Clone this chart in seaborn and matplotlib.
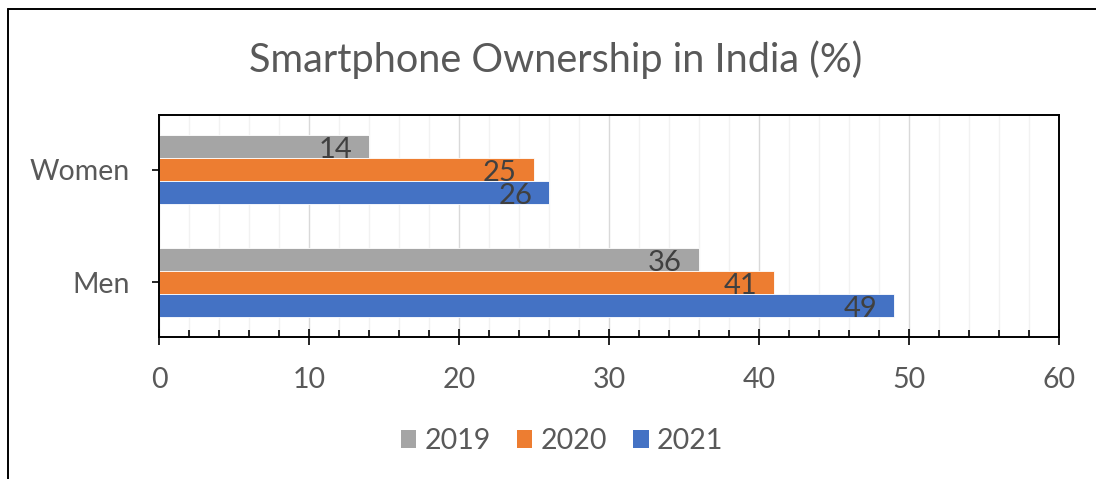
import matplotlib
matplotlib.use("Agg")
import matplotlib.pyplot as plt
from matplotlib.lines import Line2D
from matplotlib.patches import Patch
from matplotlib.ticker import MultipleLocator
import seaborn as sns
import pandas as pd

# Smartphone ownership in India (%), by gender and year
groups = ["Women", "Men"]
years = ["2019", "2020", "2021"]
share_2019 = [14, 36]
share_2020 = [25, 41]
share_2021 = [26, 49]
x_ticks = [0, 10, 20, 30, 40, 50, 60]

palette = {"2019": "#A5A5A5", "2020": "#ED7D31", "2021": "#4472C4"}
text_grey = "#595959"
label_grey = "#404040"

df = pd.DataFrame({
    "group": groups * 3,
    "year": [y for y in years for _ in groups],
    "share": share_2019 + share_2020 + share_2021,
})

sns.set_theme(style="white")
plt.rcParams["font.family"] = ["Lato", "DejaVu Sans"]

fig = plt.figure(figsize=(10.96, 4.79), dpi=100)
ax = fig.add_axes([159 / 1096, 1 - 337 / 479, 900 / 1096, 222 / 479])

sns.barplot(data=df, x="share", y="group", hue="year", order=groups,
            hue_order=years, palette=palette, saturation=1, orient="h",
            width=0.616, edgecolor="white", linewidth=0.6, legend=False,
            ax=ax)

# value labels just inside the end of each bar
values = {"2019": share_2019, "2020": share_2020, "2021": share_2021}
for year, cont in zip(years, ax.containers):
    for val, patch in zip(values[year], cont.patches):
        yc = patch.get_y() + patch.get_height() / 2
        ax.annotate(f"{val}", xy=(val, yc), xytext=(-17, -11.5),
                    textcoords="offset pixels", ha="right", va="baseline",
                    fontsize=21, color=label_grey)

ax.set_xlim(0, 60)
ax.set_ylim(1.49, -0.49)
ax.set_xticks(x_ticks)
ax.set_xticklabels([str(t) for t in x_ticks])
ax.xaxis.set_minor_locator(MultipleLocator(2))
ax.set_xlabel("")
ax.set_ylabel("")

ax.set_axisbelow(True)
ax.grid(axis="x", which="major", color="#D9D9D9", linewidth=1.0)
ax.grid(axis="x", which="minor", color="#F2F2F2", linewidth=1.0)
ax.grid(axis="y", visible=False)

for side in ["left", "right", "top", "bottom"]:
    ax.spines[side].set_visible(True)
    ax.spines[side].set_color("black")
    ax.spines[side].set_linewidth(1.4)

ax.tick_params(axis="x", which="major", direction="inout", length=12,
               width=1.2, color="black", labelsize=20.5, labelcolor=text_grey,
               pad=15.5, bottom=True)
ax.tick_params(axis="x", which="minor", direction="in", length=5,
               width=1.2, color="black", bottom=True)
ax.tick_params(axis="y", which="major", direction="out", length=5,
               width=1.2, color="black", labelsize=20.5, labelcolor=text_grey,
               pad=16, left=True)

fig.text(0.507, 1 - 72 / 479, "Smartphone Ownership in India (%)",
         ha="center", va="baseline", fontsize=28.5, color=text_grey)

handles = [Patch(facecolor=palette[y], edgecolor="none") for y in years]
fig.legend(handles, years, loc="center", bbox_to_anchor=(562 / 1096, 1 - 441 / 479),
           ncol=3, frameon=False, fontsize=20.5, labelcolor=text_grey,
           handlelength=0.55, handleheight=0.55, handletextpad=0.3,
           columnspacing=0.9)

# outer chart frame (left and top edges)
fig.add_artist(Line2D([8 / 1096, 8 / 1096], [0, 1 - 9 / 479],
                      transform=fig.transFigure, color="black", linewidth=1.4))
fig.add_artist(Line2D([8 / 1096, 1], [1 - 9 / 479, 1 - 9 / 479],
                      transform=fig.transFigure, color="black", linewidth=1.4))

fig.savefig("out.png", dpi=100, facecolor="white")
